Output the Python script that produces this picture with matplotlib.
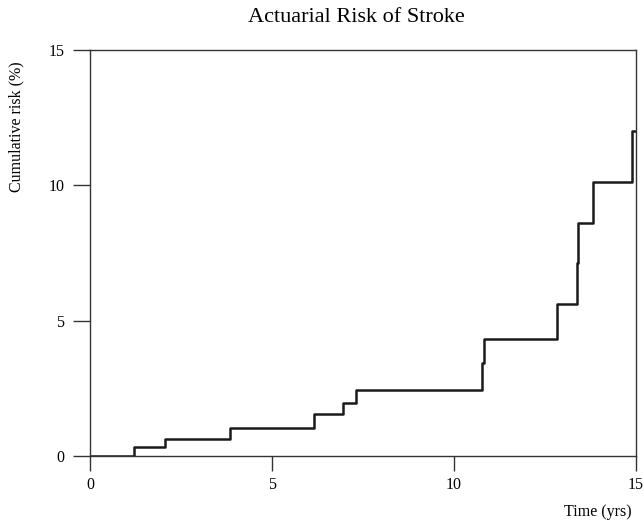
import matplotlib
matplotlib.use("Agg")
import matplotlib.pyplot as plt

# Step data (time in years, cumulative risk in %)
time_yrs = [0, 1.22, 2.06, 3.84, 6.16, 6.94, 7.32, 10.78, 10.82, 12.82, 13.38, 13.42, 13.83, 14.88, 15.0]
risk_pct = [0, 0.33, 0.64, 1.02, 1.56, 1.94, 2.43, 3.45, 4.32, 5.62, 7.13, 8.62, 10.12, 12.02, 12.02]

x_ticks = [0, 5, 10, 15]
y_ticks = [0, 5, 10, 15]

plt.rcParams['font.family'] = ['Liberation Serif', 'DejaVu Serif']

fig = plt.figure(figsize=(6.43, 5.23), dpi=100)
ax = fig.add_axes([90/643, 1 - 456/523, (636-90)/643, (456-50)/523])

ax.step(time_yrs, risk_pct, where='post', color='#1a1a1a', linewidth=1.8)

ax.set_xlim(0, 15)
ax.set_ylim(0, 15)
ax.set_xticks(x_ticks)
ax.set_yticks(y_ticks)
ax.tick_params(axis='both', direction='out', width=1.0, labelsize=11.5, color='#333333')
ax.tick_params(axis='x', length=11, pad=4)
ax.tick_params(axis='y', length=12.5, pad=6)
for s in ax.spines.values():
    s.set_linewidth(1.0)
    s.set_color('#333333')

fig.text(356/643, 1 - 18/523, 'Actuarial Risk of Stroke', ha='center', va='center', fontsize=16)
fig.text(16/643, 1 - 127/523, 'Cumulative risk (%)', ha='center', va='center', rotation=90, fontsize=11.5)
fig.text(632/643, 1 - 512/523, 'Time (yrs)', ha='right', va='center', fontsize=11.5)

fig.savefig('out.png', dpi=100)
